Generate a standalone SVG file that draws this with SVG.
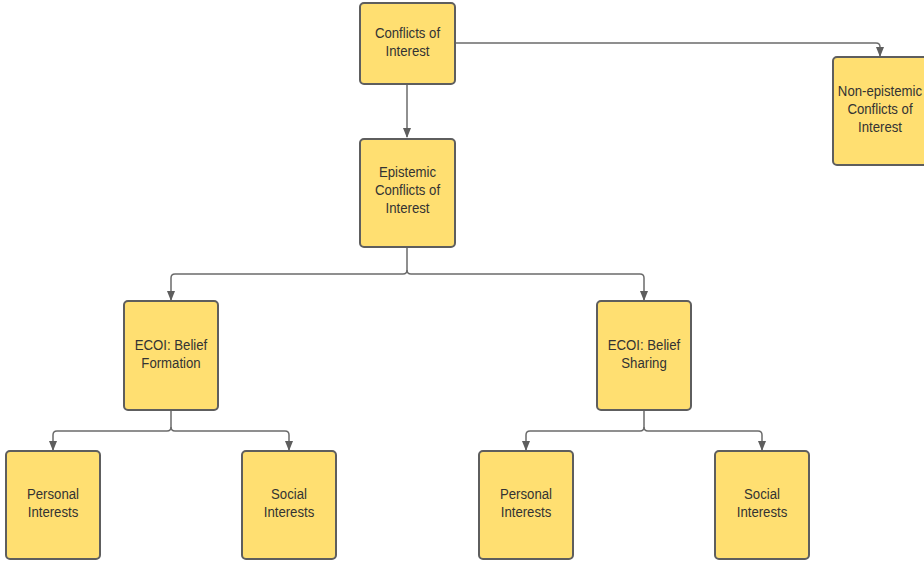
<svg xmlns="http://www.w3.org/2000/svg" width="924" height="561" viewBox="0 0 924 561">
<style>
.box{fill:#ffdf71;stroke:#5e5e5e;stroke-width:2}
.t{font-family:"Liberation Sans",Arial,sans-serif;font-size:15px;fill:#333;text-anchor:middle}
.c{fill:none;stroke:#6b6b6b;stroke-width:1.5}
</style>
<defs>
<marker id="ah" markerWidth="10" markerHeight="10" refX="9" refY="4" orient="auto" markerUnits="userSpaceOnUse" viewBox="0 0 10 8">
<path d="M0,0 L10,4 L0,8 Z" fill="#5e5e5e"/>
</marker>
</defs>
<rect width="924" height="561" fill="#fff"/>
<g id="connectors">
<path class="c" d="M455,43 H876 Q880,43 880,47 V56" marker-end="url(#ah)"/>
<path class="c" d="M407,84 V137" marker-end="url(#ah)"/>
<path class="c" d="M407,247 V270 Q407,274 403,274 H175 Q171,274 171,278 V300" marker-end="url(#ah)"/>
<path class="c" d="M407,270 Q407,274 411,274 H640 Q644,274 644,278 V300" marker-end="url(#ah)"/>
<path class="c" d="M171,410 V427 Q171,431 167,431 H57 Q53,431 53,435 V450" marker-end="url(#ah)"/>
<path class="c" d="M171,427 Q171,431 175,431 H285 Q289,431 289,435 V450" marker-end="url(#ah)"/>
<path class="c" d="M644,410 V427 Q644,431 640,431 H530 Q526,431 526,435 V450" marker-end="url(#ah)"/>
<path class="c" d="M644,427 Q644,431 648,431 H758 Q762,431 762,435 V450" marker-end="url(#ah)"/>
</g>
<g id="conflicts">
<rect class="box" x="360" y="3" width="95" height="81" rx="4"/>
<g transform="translate(407.5,0) scale(0.88,1)">
<text class="t" x="0" y="38">Conflicts of</text>
<text class="t" x="0" y="56">Interest</text>
</g>
</g>
<g id="nonepistemic">
<rect class="box" x="833" y="57" width="95" height="108" rx="4"/>
<g transform="translate(880,0) scale(0.88,1)">
<text class="t" x="0" y="96">Non-epistemic</text>
<text class="t" x="0" y="114">Conflicts of</text>
<text class="t" x="0" y="132">Interest</text>
</g>
</g>
<g id="epistemic">
<rect class="box" x="360" y="139" width="95" height="108" rx="4"/>
<g transform="translate(407.5,0) scale(0.88,1)">
<text class="t" x="0" y="177">Epistemic</text>
<text class="t" x="0" y="195">Conflicts of</text>
<text class="t" x="0" y="213">Interest</text>
</g>
</g>
<g id="ecoi-formation">
<rect class="box" x="124" y="301" width="94" height="109" rx="4"/>
<g transform="translate(171,0) scale(0.88,1)">
<text class="t" x="0" y="350">ECOI: Belief</text>
<text class="t" x="0" y="368">Formation</text>
</g>
</g>
<g id="ecoi-sharing">
<rect class="box" x="597" y="301" width="94" height="109" rx="4"/>
<g transform="translate(644,0) scale(0.88,1)">
<text class="t" x="0" y="350">ECOI: Belief</text>
<text class="t" x="0" y="368">Sharing</text>
</g>
</g>
<g id="personal1">
<rect class="box" x="6" y="451" width="94" height="108" rx="4"/>
<g transform="translate(53,0) scale(0.88,1)">
<text class="t" x="0" y="499">Personal</text>
<text class="t" x="0" y="517">Interests</text>
</g>
</g>
<g id="social1">
<rect class="box" x="242" y="451" width="94" height="108" rx="4"/>
<g transform="translate(289,0) scale(0.88,1)">
<text class="t" x="0" y="499">Social</text>
<text class="t" x="0" y="517">Interests</text>
</g>
</g>
<g id="personal2">
<rect class="box" x="479" y="451" width="94" height="108" rx="4"/>
<g transform="translate(526,0) scale(0.88,1)">
<text class="t" x="0" y="499">Personal</text>
<text class="t" x="0" y="517">Interests</text>
</g>
</g>
<g id="social2">
<rect class="box" x="715" y="451" width="94" height="108" rx="4"/>
<g transform="translate(762,0) scale(0.88,1)">
<text class="t" x="0" y="499">Social</text>
<text class="t" x="0" y="517">Interests</text>
</g>
</g>
</svg>
